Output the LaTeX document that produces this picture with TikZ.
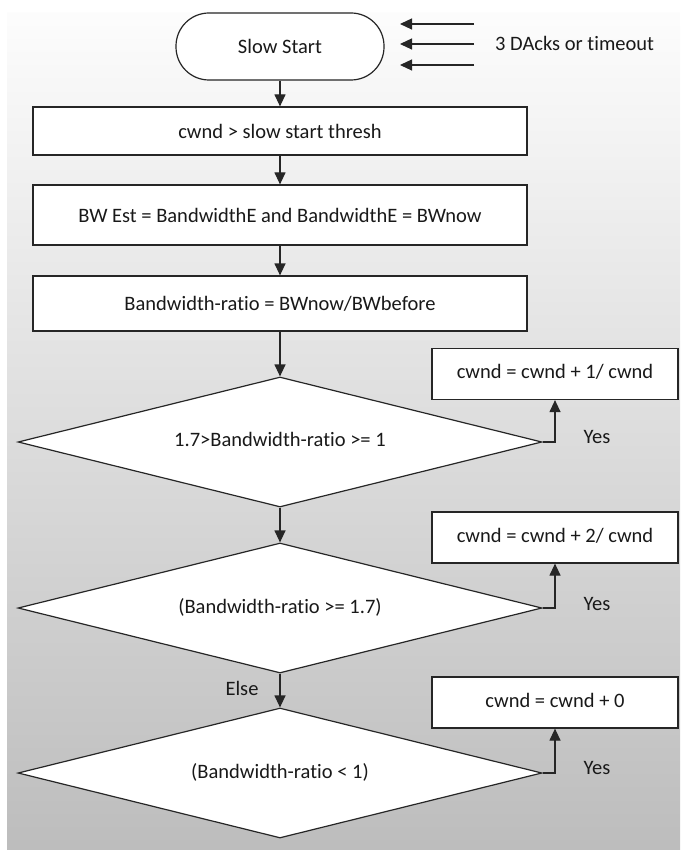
\documentclass[tikz,border=0pt]{standalone}
\usepackage{fontspec}
\setmainfont{Carlito}[Ligatures={NoCommon}]
\usetikzlibrary{arrows.meta,shapes.geometric}
\begin{document}
\begin{tikzpicture}[x=1pt,y=-1pt,
  every node/.style={font=\fontsize{20.5}{24}\selectfont, text=black!90},
  line/.style={line width=1.2pt, draw=black!85},
  flow/.style={line, -{Triangle[length=12pt,width=11pt]}},
  procbox/.style={line, fill=white, rectangle, inner sep=0pt, minimum width=494pt},
  sidebox/.style={line, fill=white, rectangle, inner sep=0pt, minimum width=246pt, minimum height=51pt},
  decision/.style={line, fill=white, diamond, aspect=4.03, inner sep=0pt, minimum width=524pt, minimum height=130pt},
  terminal/.style={line, fill=white, rectangle, rounded corners=33pt, inner sep=0pt, minimum width=208pt, minimum height=67pt},
  note/.style={inner sep=0pt}
]
% page and shaded backdrop
\useasboundingbox (0,0) rectangle (680,850);
\fill[white] (0,0) rectangle (680,850);
\shade[top color=white!99!black, bottom color=black!26] (7,13) rectangle (680,850);

% main column
\node[terminal] (start) at (280,46.5) {Slow Start};
\node[procbox, minimum height=48pt] (thresh) at (280,131) {cwnd > slow start thresh};
\node[procbox, minimum height=60pt] (est) at (280,215) {BW Est = BandwidthE and BandwidthE = BWnow};
\node[procbox, minimum height=55pt] (ratio) at (280,303.5) {Bandwidth-ratio = BWnow/BWbefore};
\node[decision] (d1) at (280,442) {\raisebox{5pt}{1.7>Bandwidth-ratio >= 1}};
\node[decision] (d2) at (280,608) {\raisebox{4pt}{(Bandwidth-ratio >= 1.7)}};
\node[decision] (d3) at (280,773) {\raisebox{4pt}{(Bandwidth-ratio < 1)}};

% side actions
\node[sidebox] (a1) at (555,374) {\raisebox{5pt}{cwnd = cwnd + 1/ cwnd}};
\node[sidebox] (a2) at (555,537.5) {\raisebox{5pt}{cwnd = cwnd + 2/ cwnd}};
\node[sidebox] (a3) at (555,702.5) {\raisebox{4pt}{cwnd = cwnd + 0}};

% trigger arrows into slow start
\coordinate (t1s) at (474,24);  \coordinate (t1e) at (400,24);
\coordinate (t2s) at (474,44);  \coordinate (t2e) at (400,44);
\coordinate (t3s) at (474,65);  \coordinate (t3e) at (400,65);
\draw[flow] (t1s) -- (t1e);
\draw[flow] (t2s) -- (t2e);
\draw[flow] (t3s) -- (t3e);
\node[note, anchor=west] (trig) at (495,43) {3 DAcks or timeout};

% vertical flow
\draw[flow] (start.south) -- (thresh.north);
\draw[flow] (thresh.south) -- (est.north);
\draw[flow] (est.south) -- (ratio.north);
\draw[flow] (ratio.south) -- (d1.north);
\draw[flow] (d1.south) -- (d2.north);
\draw[flow] (d2.south) -- (d3.north);
\node[note] (else) at (242,688) {Else};

% yes branches
\draw[flow] (d1.east) -| (a1.south);
\draw[flow] (d2.east) -| (a2.south);
\draw[flow] (d3.east) -| (a3.south);
\node[note] (y1) at (597,437) {Yes};
\node[note] (y2) at (597,604) {Yes};
\node[note] (y3) at (597,768) {Yes};
\end{tikzpicture}
\end{document}
